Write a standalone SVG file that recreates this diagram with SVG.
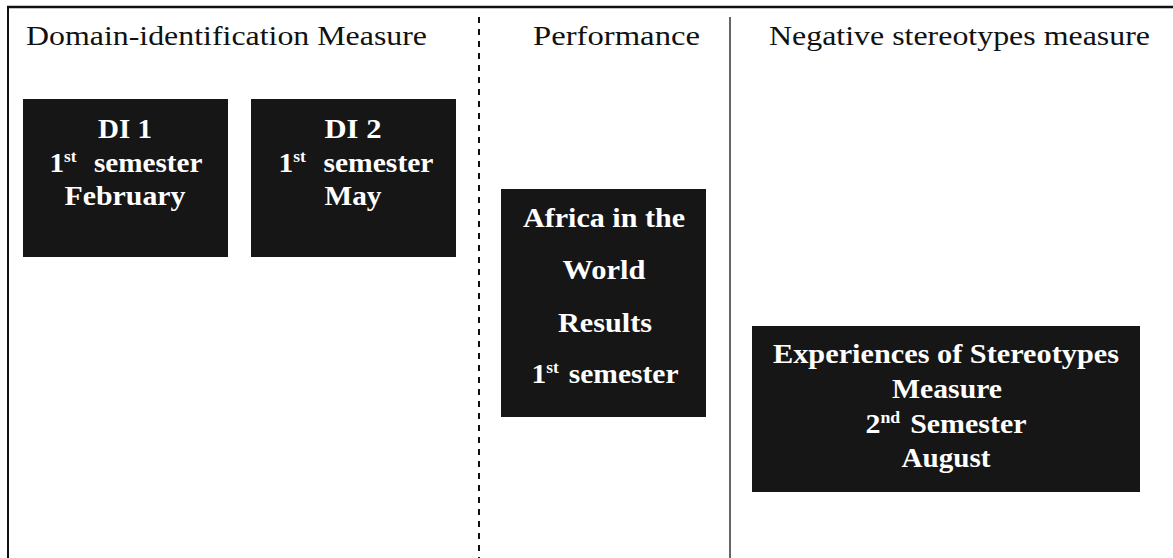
<svg xmlns="http://www.w3.org/2000/svg" width="1173" height="558" viewBox="0 0 1173 558">
<style>
.hdr{font-family:"Liberation Serif","Times New Roman",serif;font-size:27px;fill:#111}
.box{fill:#161616}
.bt{font-family:"Liberation Serif","Times New Roman",serif;font-size:27px;font-weight:bold;fill:#fff;text-anchor:middle}
.sup{font-size:16px}
</style>
<rect width="1173" height="558" fill="#fff"/>
<g id="frame">
<line x1="7" y1="7" x2="1173" y2="7" stroke="#111" stroke-width="2.5"/>
<line x1="8" y1="6" x2="8" y2="558" stroke="#111" stroke-width="2"/>
<line x1="479" y1="17" x2="479" y2="558" stroke="#111" stroke-width="2" stroke-dasharray="6 6"/>
<line x1="730" y1="17" x2="730" y2="558" stroke="#333" stroke-width="1.5"/>
</g>
<g id="headers">
<text class="hdr" x="26" y="45" textLength="401" lengthAdjust="spacingAndGlyphs">Domain-identification Measure</text>
<text class="hdr" x="533" y="45" textLength="167" lengthAdjust="spacingAndGlyphs">Performance</text>
<text class="hdr" x="769" y="45" textLength="381" lengthAdjust="spacingAndGlyphs">Negative stereotypes measure</text>
</g>
<g id="connectors"></g>
<g id="di1">
<rect class="box" x="23" y="99" width="205" height="158"/>
<text class="bt" x="125" y="138" textLength="54" lengthAdjust="spacingAndGlyphs">DI 1</text>
<text class="bt" x="126" y="172" textLength="153" lengthAdjust="spacingAndGlyphs">1<tspan class="sup" dy="-10">st</tspan><tspan dx="16" dy="10">semester</tspan></text>
<text class="bt" x="125" y="205" textLength="121" lengthAdjust="spacingAndGlyphs">February</text>
</g>
<g id="di2">
<rect class="box" x="251" y="99" width="205" height="158"/>
<text class="bt" x="353" y="138" textLength="57" lengthAdjust="spacingAndGlyphs">DI 2</text>
<text class="bt" x="356" y="172" textLength="155" lengthAdjust="spacingAndGlyphs">1<tspan class="sup" dy="-10">st</tspan><tspan dx="16" dy="10">semester</tspan></text>
<text class="bt" x="353" y="205" textLength="57" lengthAdjust="spacingAndGlyphs">May</text>
</g>
<g id="africa">
<rect class="box" x="501" y="189" width="205" height="228"/>
<text class="bt" x="604" y="227" textLength="162" lengthAdjust="spacingAndGlyphs">Africa in the</text>
<text class="bt" x="604" y="279" textLength="83" lengthAdjust="spacingAndGlyphs">World</text>
<text class="bt" x="605" y="332" textLength="94" lengthAdjust="spacingAndGlyphs">Results</text>
<text class="bt" x="605" y="383" textLength="147" lengthAdjust="spacingAndGlyphs">1<tspan class="sup" dy="-10">st</tspan><tspan dx="9" dy="10">semester</tspan></text>
</g>
<g id="experiences">
<rect class="box" x="752" y="326" width="388" height="166"/>
<text class="bt" x="946" y="363" textLength="346" lengthAdjust="spacingAndGlyphs">Experiences of Stereotypes</text>
<text class="bt" x="947" y="398" textLength="110" lengthAdjust="spacingAndGlyphs">Measure</text>
<text class="bt" x="946" y="433" textLength="161" lengthAdjust="spacingAndGlyphs">2<tspan class="sup" dy="-10">nd</tspan><tspan dx="9" dy="10">Semester</tspan></text>
<text class="bt" x="946" y="467" textLength="89" lengthAdjust="spacingAndGlyphs">August</text>
</g>
</svg>
